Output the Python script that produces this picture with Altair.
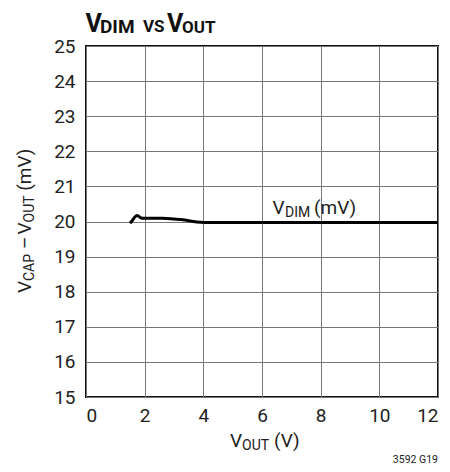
import altair as alt
import pandas as pd

vout = [1.50, 1.58, 1.66, 1.74, 1.80, 1.88, 1.97, 2.2, 2.6, 3.0, 3.3, 3.6, 3.9, 4.2, 6.0, 8.0, 10.0, 12.0]
vdim = [19.95, 20.03, 20.12, 20.17, 20.15, 20.10, 20.09, 20.09, 20.09, 20.07, 20.05, 20.01, 19.98, 19.97, 19.97, 19.97, 19.97, 19.97]
x_ticks = [0, 2, 4, 6, 8, 10, 12]
y_ticks = list(range(15, 26))

FONT = "Roboto, Liberation Sans, sans-serif"

df = pd.DataFrame({"vout": vout, "vdim": vdim})

base = alt.Chart(df)
line = base.mark_line(color="black", strokeWidth=3, interpolate="monotone").encode(
    x=alt.X("vout:Q", scale=alt.Scale(domain=[0, 12], nice=False),
            axis=alt.Axis(values=x_ticks, title=None, grid=True, gridColor="#777", gridWidth=1,
                          domain=False, ticks=False, labelFont=FONT, labelFontSize=19,
                          labelColor="#222", labelPadding=9)),
    y=alt.Y("vdim:Q", scale=alt.Scale(domain=[15, 25], nice=False),
            axis=alt.Axis(values=y_ticks, title=None, grid=True, gridColor="#777", gridWidth=1,
                          domain=False, ticks=False, labelFont=FONT, labelFontSize=19,
                          labelColor="#222", labelPadding=11)),
)

one = pd.DataFrame({"a": [0]})


def txt(s, x, y, size, bold=False, angle=0, align="left", color="#222"):
    kw = dict(text=s, font=FONT, fontSize=size, align=align, baseline="alphabetic", color=color)
    if bold:
        kw["fontWeight"] = "bold"
    if angle:
        kw["angle"] = angle
    return alt.Chart(one).mark_text(**kw).encode(x=alt.value(x), y=alt.value(y))


texts = [
    # title
    txt("V", -0.5, -14, 25, bold=True, color="#111"),
    txt("DIM", 14, -13.5, 19, bold=True, color="#111"),
    txt("VS", 57, -14, 17, bold=True, color="#111"),
    txt("V", 81, -14, 25, bold=True, color="#111"),
    txt("OUT", 96, -13.5, 17, bold=True, color="#111"),
    # curve label
    txt("V", 186.5, 168, 19),
    txt("DIM", 199, 171, 14),
    txt("(mV)", 228, 168, 19),
    # x axis title
    txt("V", 144, 400.5, 19),
    txt("OUT", 156, 404, 14),
    txt("(V)", 188, 400.5, 19),
    # y axis title (rotated)
    txt("V", -55, 247, 19, angle=270),
    txt("CAP", -52, 235, 14, angle=270),
    txt("–", -55, 203, 19, angle=270),
    txt("V", -55, 188.5, 19, angle=270),
    txt("OUT", -52, 176.4, 14, angle=270),
    txt("(mV)", -55, 144.7, 19, angle=270),
    # figure id
    txt("3592 G19", 352, 417, 10.5, align="right"),
]

chart = alt.layer(line, *texts).properties(
    width=352, height=351,
    autosize=alt.AutoSizeParams(type="none"),
    padding={"left": 78, "top": 38, "right": 4, "bottom": 72},
    background="white",
).configure_view(stroke="#111", strokeWidth=2)

chart.save("out.html", embed_options={"renderer": "svg", "actions": False})
